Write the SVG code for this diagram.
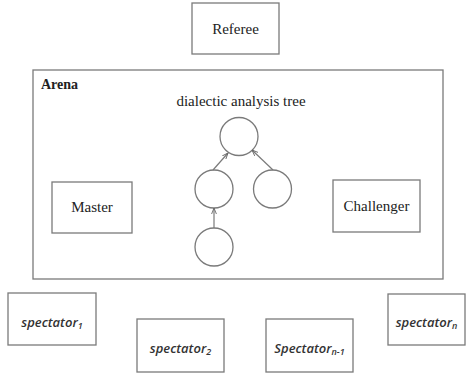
<svg xmlns="http://www.w3.org/2000/svg" width="467" height="374" viewBox="0 0 467 374">
<style>
.box{fill:#fff;stroke:#7a7a7a;stroke-width:1.3}
.circ{fill:#fff;stroke:#7a7a7a;stroke-width:1.3}
.t{font-family:"Liberation Serif",serif;font-size:15px;fill:#222;text-anchor:middle}
.s{font-family:"Open Sans","Noto Sans",sans-serif;font-style:italic;font-weight:600;font-size:13px;fill:#333;text-anchor:middle}
.sub{font-size:9px}
.edge{stroke:#7a7a7a;stroke-width:1.2;fill:none;marker-end:url(#ah)}
</style>
<defs>
<marker id="ah" viewBox="0 0 10 10" refX="10" refY="5" markerWidth="6" markerHeight="6" orient="auto" markerUnits="userSpaceOnUse">
<path d="M0,1 L10,5 L0,9" fill="none" stroke="#666" stroke-width="1.5"/>
</marker>
</defs>
<rect width="467" height="374" fill="#fff"/>
<g id="referee"><rect class="box" x="192" y="3" width="87" height="51"/><text class="t" x="235.5" y="34">Referee</text></g>
<g id="arena"><rect class="box" x="33" y="70" width="410" height="209"/><text x="41" y="89" font-family="Liberation Serif,serif" font-weight="bold" font-size="14" fill="#222">Arena</text><text class="t" x="241" y="106">dialectic analysis tree</text></g>
<g id="master"><rect class="box" x="52" y="182" width="80" height="51"/><text class="t" x="92" y="212">Master</text></g>
<g id="challenger"><rect class="box" x="333" y="180" width="87" height="52"/><text class="t" x="376.5" y="211">Challenger</text></g>
<g id="node-root"><circle class="circ" cx="239" cy="136.5" r="19"/></g>
<g id="node-left"><circle class="circ" cx="214" cy="189" r="19"/></g>
<g id="node-right"><circle class="circ" cx="272.5" cy="189" r="19"/></g>
<g id="node-bottom"><circle class="circ" cx="214" cy="247" r="19"/></g>
<g id="connectors">
<line class="edge" x1="213" y1="170" x2="228" y2="153"/>
<line class="edge" x1="273" y1="170" x2="252" y2="150"/>
<line class="edge" x1="214" y1="228" x2="214" y2="208"/>
</g>
<g id="spectator1"><rect class="box" x="8" y="293" width="88" height="52"/><text class="s" x="52" y="327">spectator<tspan class="sub" dy="2">1</tspan></text></g>
<g id="spectator2"><rect class="box" x="137" y="319" width="87" height="53"/><text class="s" x="180.5" y="353">spectator<tspan class="sub" dy="2">2</tspan></text></g>
<g id="spectatorn1"><rect class="box" x="266" y="319" width="87" height="53"/><text class="s" x="309.5" y="353">Spectator<tspan class="sub" dy="2">n-1</tspan></text></g>
<g id="spectatorn"><rect class="box" x="388" y="294" width="77" height="51"/><text class="s" x="426.5" y="327">spectator<tspan class="sub" dy="2">n</tspan></text></g>
</svg>
